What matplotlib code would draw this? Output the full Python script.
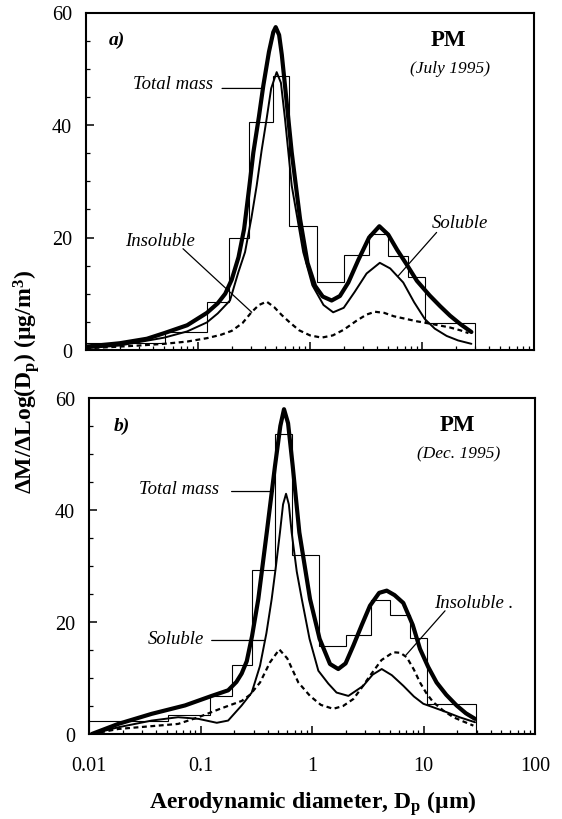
import matplotlib
matplotlib.use('Agg')
import matplotlib.pyplot as plt
from matplotlib.ticker import FixedLocator, NullFormatter, FixedFormatter

plt.rcParams['font.family'] = ['Liberation Serif', 'DejaVu Serif']
plt.rcParams['mathtext.fontset'] = 'custom'
plt.rcParams['mathtext.rm'] = 'Liberation Serif'
plt.rcParams['mathtext.it'] = 'Liberation Serif:italic'
plt.rcParams['mathtext.bf'] = 'Liberation Serif:bold'

# ---------------- data ----------------
bin_edges = [0.01, 0.051, 0.121, 0.19, 0.288, 0.463, 0.656, 1.16, 2.01, 3.39,
             4.98, 7.55, 10.7, 29.6]
jul_hist = [1.2, 3.2, 8.5, 20.0, 40.5, 48.8, 22.1, 12.1, 16.9, 20.6, 16.7, 12.9, 4.8]
dec_hist = [2.3, 3.4, 6.8, 12.4, 29.3, 53.6, 32.0, 15.8, 17.6, 23.9, 21.2, 17.1, 5.3]

jul_total_x = [0.01, 0.02, 0.035, 0.05, 0.08, 0.12, 0.15, 0.175, 0.2, 0.23, 0.258,
               0.287, 0.312, 0.35, 0.383, 0.43, 0.47, 0.494, 0.53, 0.56, 0.598,
               0.687, 0.815, 0.95, 1.11, 1.3, 1.56, 1.85, 2.2, 2.7, 3.37, 4.16,
               5.0, 6.0, 7.3, 9.0, 11.7, 14.5, 17.8, 22.0, 27.6]
jul_total_y = [0.6, 1.2, 2.0, 3.0, 4.4, 6.6, 8.3, 10.0, 12.5, 16.5, 21.5,
               29.0, 35.1, 41.5, 47.0, 53.0, 56.5, 57.4, 56.0, 52.5, 47.0,
               35.1, 23.3, 15.5, 11.4, 9.5, 8.8, 9.6, 12.0, 16.0, 20.0, 22.0,
               20.5, 17.8, 15.2, 12.3, 9.7, 7.8, 6.1, 4.6, 3.2]

jul_sol_x = [0.01, 0.02, 0.05, 0.08, 0.12, 0.15, 0.193, 0.229, 0.263, 0.3, 0.334,
             0.37, 0.41, 0.45, 0.504, 0.55, 0.598, 0.687, 0.87, 1.05, 1.32, 1.61,
             2.0, 2.5, 3.2, 4.2, 5.2, 6.8, 8.5, 10.6, 13.0, 16.6, 21.0, 27.6]
jul_sol_y = [0.3, 0.8, 2.2, 3.3, 4.9, 6.5, 8.8, 13.8, 17.4, 23.5, 29.2,
             35.5, 41.1, 46.5, 49.4, 47.5, 41.1, 29.2, 17.4, 11.5, 8.0, 6.7,
             7.5, 10.3, 13.6, 15.5, 14.5, 12.0, 8.5, 5.5, 3.8, 2.5, 1.7, 1.1]

jul_insol_x = [0.01, 0.016, 0.03, 0.05, 0.08, 0.12, 0.16, 0.2, 0.25, 0.3, 0.35,
               0.41, 0.48, 0.56, 0.66, 0.8, 1.0, 1.27, 1.6, 2.0, 2.6, 3.2, 3.8,
               4.6, 5.6, 7.3, 9.0, 11.0, 14.0, 17.8, 22.0, 26.0]
jul_insol_y = [0.3, 0.5, 0.8, 1.1, 1.5, 2.1, 2.7, 3.4, 4.8, 6.7, 8.0,
               8.6, 7.6, 6.2, 4.9, 3.5, 2.6, 2.2, 2.6, 3.6, 5.2, 6.3, 6.8,
               6.6, 6.0, 5.5, 5.1, 4.8, 4.4, 4.0, 3.5, 3.0]

dec_total_x = [0.0106, 0.0183, 0.0365, 0.0726, 0.126, 0.177, 0.21, 0.234, 0.26,
               0.29, 0.33, 0.393, 0.466, 0.52, 0.561, 0.61, 0.671, 0.77, 0.96,
               1.17, 1.45, 1.72, 2.0, 2.35, 2.8, 3.31, 4.0, 4.68, 5.5, 6.59, 8.0,
               9.3, 11.0, 13.1, 16.0, 19.8, 24.0, 29.0]
dec_total_y = [0.0, 1.8, 3.6, 5.1, 6.8, 7.8, 9.3, 10.8, 13.0,
               17.5, 24.1, 36.0, 47.9, 55.0, 58.0, 55.5, 47.9, 36.0, 24.1,
               17.0, 12.5, 11.6, 12.6, 15.8, 19.5, 22.9, 25.2, 25.6, 24.8, 23.4, 19.5,
               15.2, 12.0, 9.2, 7.0, 5.1, 3.7, 2.7]

dec_sol_x = [0.0106, 0.0183, 0.0365, 0.063, 0.096, 0.14, 0.177, 0.234, 0.288,
             0.342, 0.39, 0.435, 0.475, 0.516, 0.55, 0.585, 0.62, 0.657, 0.73,
             0.81, 0.95, 1.14, 1.4, 1.66, 2.12, 2.88, 3.5, 4.22, 5.2, 6.6, 8.2,
             9.96, 12.5, 16.1, 21.0, 29.0]
dec_sol_y = [0.0, 1.2, 2.4, 3.0, 2.7, 2.0, 2.4, 5.1, 7.4,
             12.2, 18.0, 24.1, 30.0, 36.0, 41.0, 42.9, 41.0, 36.0, 29.0,
             24.1, 17.0, 11.3, 9.0, 7.4, 6.8, 8.6, 10.6, 11.6, 10.5, 8.6, 6.7,
             5.4, 4.7, 3.9, 3.0, 2.1]

dec_insol_x = [0.0106, 0.0183, 0.0365, 0.063, 0.096, 0.15, 0.234, 0.278, 0.342,
               0.42, 0.509, 0.6, 0.754, 0.96, 1.2, 1.55, 1.9, 2.35, 2.8, 3.31,
               4.2, 5.36, 6.2, 7.08, 8.2, 9.3, 10.6, 12.2, 15.0, 18.5, 23.0, 28.0]
dec_insol_y = [0.0, 0.9, 1.4, 1.8, 3.0, 4.5, 5.9, 7.0, 9.2,
               12.8, 15.1, 13.5, 9.2, 6.8, 5.2, 4.5, 5.0, 6.25, 8.3, 10.4,
               13.2, 14.6, 14.5, 13.7, 11.5, 9.2, 7.3, 5.7, 4.2, 3.0, 2.2, 1.5]

xtick_vals = [0.01, 0.1, 1, 10, 100]
xtick_labels = ['0.01', '0.1', '1', '10', '100']
ytick_vals = [0, 20, 40, 60]

# ---------------- figure ----------------
W, H = 562, 820
fig = plt.figure(figsize=(W / 100, H / 100), dpi=100)


def px_axes(left, top, right, bottom):
    return fig.add_axes([left / W, 1 - bottom / H, (right - left) / W, (bottom - top) / H])


ax1 = px_axes(86, 13.5, 534, 351)
ax2 = px_axes(89, 399, 535, 735)

minor_x = [m * 10.0 ** e for e in range(-2, 2) for m in range(2, 10)]


def style(ax, show_xlabels):
    ax.set_xscale('log')
    ax.set_xlim(0.01, 100)
    ax.set_ylim(0, 60)
    ax.xaxis.set_major_locator(FixedLocator(xtick_vals))
    ax.xaxis.set_minor_locator(FixedLocator(minor_x))
    ax.xaxis.set_minor_formatter(NullFormatter())
    if show_xlabels:
        ax.xaxis.set_major_formatter(FixedFormatter(xtick_labels))
    else:
        ax.xaxis.set_major_formatter(NullFormatter())
    ax.yaxis.set_major_locator(FixedLocator(ytick_vals))
    ax.yaxis.set_minor_locator(FixedLocator(list(range(0, 61, 5))))
    ax.tick_params(which='major', direction='in', length=5.5, width=1.1,
                   labelsize=14.5, top=False, right=False)
    ax.tick_params(which='minor', direction='in', length=3.2, width=0.9,
                   top=False, right=False)
    ax.tick_params(axis='y', which='major', pad=10)
    ax.tick_params(axis='x', which='major', pad=16)
    for s in ax.spines.values():
        s.set_linewidth(1.5)


def draw(ax, hist, tx, ty, sx, sy, ix, iy):
    ax.stairs(hist, bin_edges, baseline=0, color='black', lw=0.8, zorder=2)
    ax.plot(ix, iy, color='black', lw=1.6, ls=(0, (2.2, 1.6)), zorder=3)
    ax.plot(sx, sy, color='black', lw=1.4, zorder=4, solid_capstyle='round',
            solid_joinstyle='round')
    ax.plot(tx, ty, color='black', lw=3.0, zorder=5, solid_capstyle='round',
            solid_joinstyle='round')


style(ax1, False)
style(ax2, True)
draw(ax1, jul_hist, jul_total_x, jul_total_y, jul_sol_x, jul_sol_y, jul_insol_x, jul_insol_y)
draw(ax2, dec_hist, dec_total_x, dec_total_y, dec_sol_x, dec_sol_y, dec_insol_x, dec_insol_y)

lab_it = dict(style='italic', fontsize=13.5, ha='center', va='center')


def pointer(ax, a, b):
    ax.annotate('', xy=b, xytext=a,
                arrowprops=dict(arrowstyle='-', lw=0.9, color='black', shrinkA=0, shrinkB=0))


# panel a annotations
ax1.text(0.069, 0.921, 'a)', transform=ax1.transAxes, fontsize=14, style='italic',
         weight='bold', ha='center', va='center')
ax1.text(0.810, 0.921, 'PM', transform=ax1.transAxes, fontsize=16.5, weight='bold',
         ha='center', va='center')
ax1.text(0.8125, 0.836, '(July 1995)', transform=ax1.transAxes, fontsize=12.5,
         style='italic', ha='center', va='center')
ax1.text(0.194, 0.791, 'Total mass', transform=ax1.transAxes, **lab_it)
ax1.text(0.165, 0.323, 'Insoluble', transform=ax1.transAxes, **lab_it)
ax1.text(0.835, 0.379, 'Soluble', transform=ax1.transAxes, **lab_it)
pointer(ax1, (0.164, 46.5), (0.375, 46.5))
pointer(ax1, (0.0735, 18.0), (0.302, 6.7))
pointer(ax1, (13.5, 20.9), (6.15, 13.2))

# panel b annotations
ax2.text(0.074, 0.920, 'b)', transform=ax2.transAxes, fontsize=14, style='italic',
         weight='bold', ha='center', va='center')
ax2.text(0.825, 0.920, 'PM', transform=ax2.transAxes, fontsize=16.5, weight='bold',
         ha='center', va='center')
ax2.text(0.8296, 0.836, '(Dec. 1995)', transform=ax2.transAxes, fontsize=12.5,
         style='italic', ha='center', va='center')
ax2.text(0.202, 0.732, 'Total mass', transform=ax2.transAxes, **lab_it)
ax2.text(0.195, 0.283, 'Soluble', transform=ax2.transAxes, **lab_it)
ax2.text(0.774, 0.390, 'Insoluble .', transform=ax2.transAxes, style='italic',
         fontsize=13.5, ha='left', va='center')
pointer(ax2, (0.19, 43.3), (0.45, 43.3))
pointer(ax2, (0.126, 16.7), (0.37, 16.7))
pointer(ax2, (15.6, 22.0), (6.97, 14.1))

# axis labels
fig.text(27 / W, 1 - 382 / H, r'ΔM/ΔLog(D$_\mathbf{p}$) (µg/m$^\mathbf{3}$)',
         rotation=90, fontsize=17, weight='bold', ha='center', va='center')
fig.text(313 / W, 1 - 804 / H, r'Aerodynamic diameter, D$_\mathbf{p}$ (µm)',
         fontsize=17, weight='bold', ha='center', va='center')

fig.savefig('out.png', dpi=100)
